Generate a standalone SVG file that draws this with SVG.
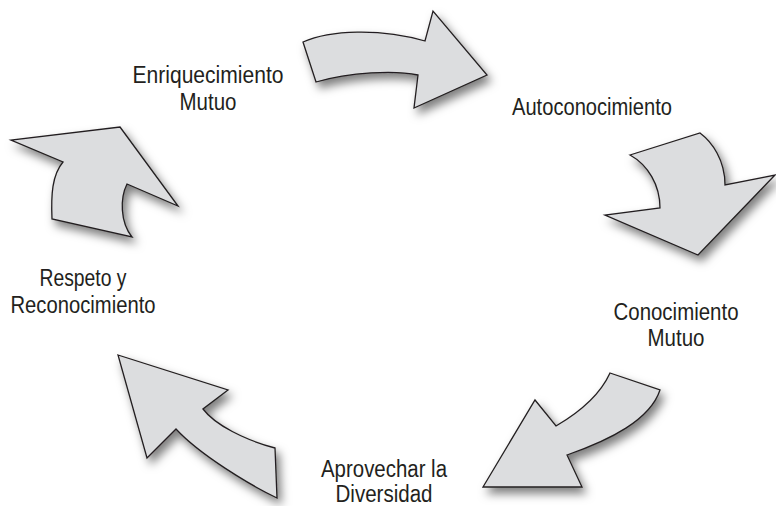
<svg xmlns="http://www.w3.org/2000/svg" width="776" height="506" viewBox="0 0 776 506">
  <style>
    .lbl { font-family: "Liberation Sans Narrow", "Liberation Sans", "DejaVu Sans Condensed", sans-serif; font-size: 23.5px; fill: #231f20; text-anchor: middle; }
    .arr { fill: #dcdddf; stroke: #231f20; stroke-width: 1.3; stroke-linejoin: miter; filter: url(#shadow); }
  </style>
  <defs>
    <filter id="shadow" x="-20%" y="-20%" width="150%" height="150%">
      <feDropShadow dx="4" dy="6" stdDeviation="5" flood-color="#000" flood-opacity="0.5"/>
    </filter>
  </defs>
  <rect width="776" height="506" fill="#ffffff"/>
  <g id="connectors">
    <path class="arr" d="M303,42 C330,30 380,28 425,41 L433,11 L487,75 L414,108 L418,75 C395,70 350,72 316,82 Z"/>
    <path class="arr" d="M630,155 L700,133 C712,142 725,160 725,185 L775,175 L698,255 L605,215 L660,208 C660,185 648,165 630,155 Z"/>
    <path class="arr" d="M610,373 L660,390 C650,420 610,440 567,455 L582,487 L483,487 L535,400 L556,426 C580,412 600,395 610,373 Z"/>
    <path class="arr" d="M118,355 L228,390 L203,409 C215,425 245,440 275,448 L277,498 C250,485 200,455 176,429 L147,458 Z"/>
    <path class="arr" d="M120,127 L178,206 L127,184 C120,198 120,222 132,237 L52,219 C51,195 52,175 63,162 L11,140 Z"/>
  </g>
  <g id="enriquecimiento-mutuo">
    <text class="lbl" x="208" y="83" textLength="151" lengthAdjust="spacingAndGlyphs">Enriquecimiento</text>
    <text class="lbl" x="208" y="110" textLength="57" lengthAdjust="spacingAndGlyphs">Mutuo</text>
  </g>
  <g id="autoconocimiento">
    <text class="lbl" x="592" y="115" textLength="160" lengthAdjust="spacingAndGlyphs">Autoconocimiento</text>
  </g>
  <g id="conocimiento-mutuo">
    <text class="lbl" x="676" y="320" textLength="125" lengthAdjust="spacingAndGlyphs">Conocimiento</text>
    <text class="lbl" x="676" y="346" textLength="57" lengthAdjust="spacingAndGlyphs">Mutuo</text>
  </g>
  <g id="aprovechar-diversidad">
    <text class="lbl" x="384" y="477" textLength="126" lengthAdjust="spacingAndGlyphs">Aprovechar la</text>
    <text class="lbl" x="384" y="502" textLength="97" lengthAdjust="spacingAndGlyphs">Diversidad</text>
  </g>
  <g id="respeto-reconocimiento">
    <text class="lbl" x="83" y="286" textLength="87" lengthAdjust="spacingAndGlyphs">Respeto y</text>
    <text class="lbl" x="83" y="313" textLength="145" lengthAdjust="spacingAndGlyphs">Reconocimiento</text>
  </g>
</svg>
